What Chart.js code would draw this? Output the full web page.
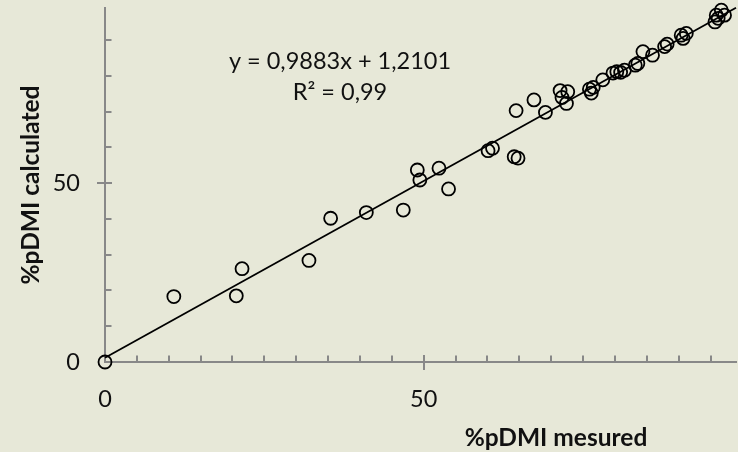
<!DOCTYPE html>
<html>
<head>
<meta charset="utf-8">
<script src="https://cdn.jsdelivr.net/npm/chart.js@4.4.1/dist/chart.umd.min.js"></script>
<style>
  html, body { margin: 0; padding: 0; background: #e7e8d8; }
  #wrap { width: 738px; height: 452px; }
</style>
</head>
<body>
<div id="wrap"><canvas id="pdmiChart" width="738" height="452"></canvas></div>
<script>
// %pDMI mesuré (x) vs calculé (y)
const measured = [0, 10.8, 20.6, 21.5, 32.0, 35.4, 41.0, 46.8, 49.0, 49.4, 52.4, 53.9, 60.1, 60.8,
  64.2, 64.8, 64.5, 67.3, 69.1, 71.4, 71.7, 72.6, 72.4, 76.0, 76.3, 76.6, 78.1, 79.7, 80.3, 80.9,
  81.5, 83.2, 83.6, 84.4, 85.9, 87.8, 88.2, 90.4, 90.7, 91.2, 95.7, 95.9, 96.2, 96.7, 97.2];
const calculated = [0, 18.3, 18.5, 26.1, 28.4, 40.2, 41.8, 42.5, 53.7, 50.9, 54.2, 48.4, 59.1, 59.8,
  57.4, 57.0, 70.3, 73.3, 69.8, 75.9, 74.0, 75.6, 72.3, 76.3, 75.2, 76.8, 78.9, 80.8, 81.2, 81.0,
  81.6, 83.0, 83.5, 86.8, 85.8, 88.2, 88.9, 91.4, 90.5, 91.9, 95.1, 97.0, 96.1, 98.4, 97.0];

// trendline from the equation shown on the chart
const slope = 0.9883;
const intercept = 1.2101;
const trendX = [0, 99];

const axisMax = 99;
const labeledTicks = [0, 50];
const xStep = 5;
const yStep = 10;

const fontFamily = "Lato, 'Open Sans', sans-serif";

// petits traits d'axe façon Excel (mineurs à l'intérieur, majeurs croisés)
const excelTicks = {
  id: "excelTicks",
  afterDraw(chart) {
    const ctx = chart.ctx;
    const xs = chart.scales.x, ys = chart.scales.y;
    const area = chart.chartArea;
    ctx.save();
    ctx.strokeStyle = "#888888";
    ctx.lineWidth = 2;
    ctx.beginPath();
    for (let v = xStep; v < axisMax; v += xStep) {
      const px = Math.round(xs.getPixelForValue(v));
      const major = labeledTicks.includes(v);
      ctx.moveTo(px, area.bottom - (major ? 7 : 6.5));
      ctx.lineTo(px, area.bottom + (major ? 8 : 0));
    }
    for (let v = yStep; v < axisMax; v += yStep) {
      const py = Math.round(ys.getPixelForValue(v));
      const major = labeledTicks.includes(v);
      ctx.moveTo(area.left - (major ? 8 : 0), py);
      ctx.lineTo(area.left + (major ? 7 : 6.5), py);
    }
    ctx.stroke();

    // équation de la tendance
    ctx.fillStyle = "#111111";
    ctx.textAlign = "center";
    ctx.textBaseline = "middle";
    ctx.font = "23.5px " + fontFamily;
    ctx.fillText("y = 0,9883x + 1,2101", 340, 61);
    ctx.fillText("R² = 0,99", 340, 92);

    // titres des axes
    ctx.font = "bold 24.5px " + fontFamily;
    ctx.fillText("%pDMI mesured", 556, 438);
    ctx.translate(31, 185);
    ctx.rotate(-Math.PI / 2);
    ctx.fillText("%pDMI calculated", 0, 0);
    ctx.restore();
  }
};

const tickLabel = (v) => (labeledTicks.includes(v) ? String(v) : null);

const ctx = document.getElementById("pdmiChart").getContext("2d");
new Chart(ctx, {
  type: "scatter",
  data: {
    datasets: [{
      label: "%pDMI",
      data: measured.map((x, i) => ({ x: x, y: calculated[i] })),
      pointStyle: "circle",
      pointRadius: 6.5,
      pointHoverRadius: 6.5,
      backgroundColor: "rgba(0,0,0,0)",
      borderColor: "#000000",
      borderWidth: 1.8,
      clip: false
    }, {
      label: "Linéaire",
      data: trendX.map(x => ({ x: x, y: slope * x + intercept })),
      showLine: true,
      pointRadius: 0,
      borderColor: "#000000",
      borderWidth: 1.8,
      clip: false
    }]
  },
  options: {
    responsive: false,
    devicePixelRatio: 1,
    animation: false,
    layout: { autoPadding: false, padding: { top: 8, right: 2, left: 0, bottom: 0 } },
    plugins: {
      legend: { display: false },
      tooltip: { enabled: false }
    },
    scales: {
      x: {
        type: "linear",
        min: 0,
        max: axisMax,
        grid: { display: false, drawTicks: false },
        border: { display: true, color: "#888888", width: 2 },
        ticks: {
          stepSize: xStep,
          autoSkip: false,
          includeBounds: false,
          maxRotation: 0,
          padding: 23,
          color: "#111111",
          font: { family: fontFamily, size: 23.5 },
          callback: tickLabel
        },
        afterFit: (s) => {
          s.height = 90;
          s.paddingLeft = 0;
          s.paddingRight = 0;
        }
      },
      y: {
        type: "linear",
        min: 0,
        max: axisMax,
        grid: { display: false, drawTicks: false },
        border: { display: true, color: "#888888", width: 2 },
        ticks: {
          stepSize: yStep,
          autoSkip: false,
          includeBounds: false,
          padding: 25,
          color: "#111111",
          font: { family: fontFamily, size: 23.5 },
          callback: tickLabel
        },
        afterFit: (s) => {
          s.width = 105;
          s.paddingTop = 0;
          s.paddingBottom = 0;
        }
      }
    }
  },
  plugins: [excelTicks]
});
</script>
</body>
</html>
